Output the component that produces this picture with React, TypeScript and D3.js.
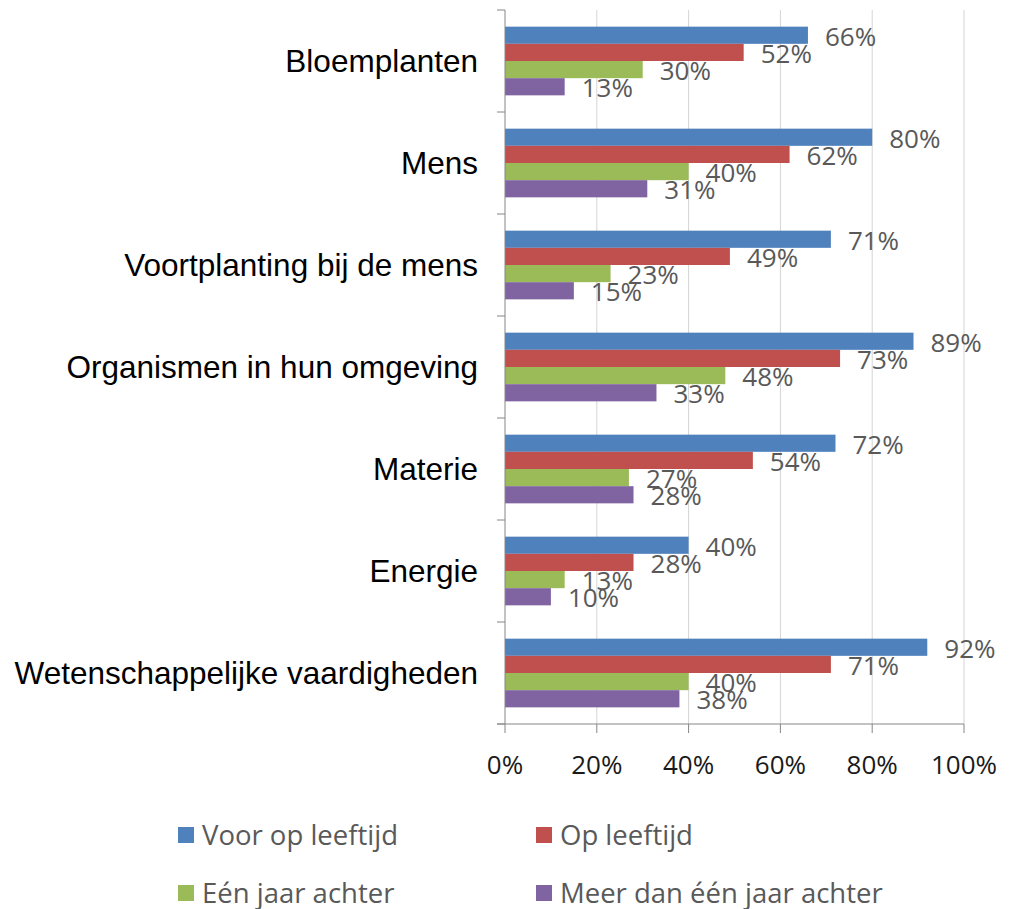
import React from 'react'
import * as d3 from 'd3'

// categories top to bottom
const categories = [
  'Bloemplanten',
  'Mens',
  'Voortplanting bij de mens',
  'Organismen in hun omgeving',
  'Materie',
  'Energie',
  'Wetenschappelijke vaardigheden',
]

const seriesNames = ['Voor op leeftijd', 'Op leeftijd', 'Eén jaar achter', 'Meer dan één jaar achter']
const seriesColors = ['#4F81BD', '#C0504D', '#9BBB59', '#8064A2']

// values per series, same order as categories
const voorOpLeeftijd = [0.66, 0.8, 0.71, 0.89, 0.72, 0.4, 0.92]
const opLeeftijd = [0.52, 0.62, 0.49, 0.73, 0.54, 0.28, 0.71]
const eenJaarAchter = [0.3, 0.4, 0.23, 0.48, 0.27, 0.13, 0.4]
const meerDanEenJaarAchter = [0.13, 0.31, 0.15, 0.33, 0.28, 0.1, 0.38]

const xTicks = [0, 0.2, 0.4, 0.6, 0.8, 1]

const W = 1030
const H = 909
const margin = { top: 10, right: 66, bottom: 185, left: 505 }

export default function App() {
  const seriesValues = [voorOpLeeftijd, opLeeftijd, eenJaarAchter, meerDanEenJaarAchter]

  const x = d3.scaleLinear().domain([0, 1]).range([margin.left, W - margin.right])
  const y = d3.scaleBand().domain(categories).range([margin.top, H - margin.bottom])
  const inner = d3.scaleBand().domain(seriesNames).range([0, y.bandwidth()]).paddingOuter(0.97)
  const pct = d3.format('.0%')

  const axisColor = '#868686'
  const dataFont = "'Open Sans', sans-serif"

  // band boundaries for y-axis ticks
  const yBounds = categories.map((c) => y(c)!).concat([H - margin.bottom])
  const plotBottom = H - margin.bottom

  // legend layout: 2 columns x 2 rows
  const legendX = [178, 536]
  const legendY = [835, 893]

  return (
    <svg width={W} height={H} style={{ position: 'absolute', left: 0, top: 0, background: '#fff' }}>
      {/* gridlines */}
      {xTicks.slice(1).map((t) => (
        <line key={t} x1={x(t)} x2={x(t)} y1={margin.top} y2={plotBottom} stroke="#d4d4d4" strokeWidth={1} />
      ))}

      {/* bars */}
      {categories.map((c, i) => (
        <g key={c} transform={`translate(0,${y(c)})`}>
          {seriesNames.map((s, j) => {
            const v = seriesValues[j][i]
            return (
              <g key={s}>
                <rect
                  x={x(0)}
                  y={inner(s)}
                  width={x(v) - x(0)}
                  height={inner.bandwidth()}
                  fill={seriesColors[j]}
                />
                <text
                  x={x(v) + 17}
                  y={inner(s)! + inner.bandwidth() / 2 + 1}
                  dy="0.36em"
                  fontFamily={dataFont}
                  fontSize={26}
                  fill="#595959"
                >
                  {pct(v)}
                </text>
              </g>
            )
          })}
        </g>
      ))}

      {/* y axis */}
      <line x1={x(0)} x2={x(0)} y1={margin.top} y2={plotBottom} stroke={axisColor} />
      {yBounds.map((b, i) => (
        <line key={i} x1={x(0) - 8} x2={x(0)} y1={b} y2={b} stroke={axisColor} />
      ))}
      {categories.map((c) => (
        <text
          key={c}
          x={478}
          y={y(c)! + y.bandwidth() / 2}
          dy="0.35em"
          textAnchor="end"
          fontFamily="'Liberation Sans', Arial, sans-serif"
          fontSize={31.5}
          fill="#000"
        >
          {c}
        </text>
      ))}

      {/* x axis */}
      <line x1={x(0) - 8} x2={x(1)} y1={plotBottom} y2={plotBottom} stroke={axisColor} />
      {xTicks.map((t) => (
        <g key={t}>
          <line x1={x(t)} x2={x(t)} y1={plotBottom} y2={plotBottom + 9} stroke={axisColor} />
          <text
            x={x(t)}
            y={765}
            dy="0.36em"
            textAnchor="middle"
            fontFamily={dataFont}
            fontSize={26}
            fill="#1a1a1a"
          >
            {pct(t)}
          </text>
        </g>
      ))}

      {/* legend */}
      {seriesNames.map((s, j) => {
        const lx = legendX[j % 2]
        const ly = legendY[Math.floor(j / 2)]
        return (
          <g key={s}>
            <rect x={lx} y={ly - 8} width={16} height={16} fill={seriesColors[j]} />
            <text x={lx + 24} y={ly} dy="0.35em" fontFamily={dataFont} fontSize={27.5} fill="#595959">
              {s}
            </text>
          </g>
        )
      })}
    </svg>
  )
}
